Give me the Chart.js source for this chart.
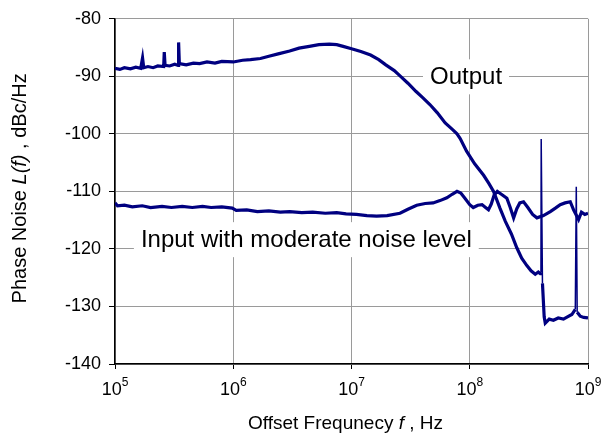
<!DOCTYPE html>
<html>
<head>
<meta charset="utf-8">
<script src="https://cdn.jsdelivr.net/npm/chart.js@4"></script>
<style>
  body { margin: 0; background: #fff; }
  #wrap { width: 609px; height: 435px; position: relative; }
</style>
</head>
<body>
<div id="wrap"><canvas id="phaseNoiseChart"></canvas></div>
<script>
// offset frequency (Hz) and phase noise (dBc/Hz)
const outFreq = [
  1e5, 1.1e5, 1.2e5, 1.35e5, 1.5e5, 1.65e5, 1.71e5, 1.75e5, 1.9e5, 2.1e5,
  2.3e5, 2.58e5, 2.61e5, 2.65e5, 2.9e5, 3.2e5, 3.42e5, 3.45e5, 3.5e5, 4e5,
  4.6e5, 5.2e5, 6e5, 7e5, 8e5, 1e6, 1.2e6, 1.4e6, 1.7e6, 2e6, 2.4e6, 3e6,
  3.6e6, 4.4e6, 5.3e6, 6.5e6, 7.5e6, 8.5e6, 1e7, 1.2e7, 1.45e7, 1.7e7,
  1.95e7, 2.3e7, 2.6e7, 3e7, 3.5e7, 4e7, 4.6e7, 5.3e7, 6.2e7, 7.2e7, 7.8e7,
  8.3e7, 9.4e7, 1.1e8, 1.31e8, 1.45e8, 1.59e8, 1.8e8, 2e8, 2.25e8, 2.5e8,
  2.75e8, 3.04e8, 3.3e8, 3.58e8, 3.8e8, 3.95e8, 4.0e8, 4.02e8, 4.12e8,
  4.26e8, 4.35e8, 4.7e8, 5.1e8, 5.6e8, 6.2e8, 6.7e8, 7.3e8, 7.81e8, 7.96e8,
  8.1e8, 8.6e8, 9.2e8, 1e9,
];
const outLevel = [
  -88.6, -88.8, -88.5, -88.7, -88.4, -88.6, -86.8, -88.5, -88.3, -88.5,
  -88.2, -88.3, -85.8, -88.1, -88.2, -87.9, -88.1, -84.1, -87.8, -88.0,
  -87.7, -87.8, -87.5, -87.7, -87.4, -87.5, -87.2, -87.1, -86.9, -86.5,
  -86.1, -85.6, -85.1, -84.8, -84.5, -84.4, -84.5, -84.8, -85.2, -85.7,
  -86.3, -87.1, -88.0, -89.0, -90.0, -91.2, -92.6, -93.7, -94.9, -96.3,
  -98.1, -99.3, -100.0, -100.8, -103.0, -105.2, -107.2, -108.6, -110.0,
  -112.9, -115.2, -117.4, -119.8, -121.6, -122.9, -123.8, -124.4, -124.0,
  -124.3, -124.1, -100.9, -126.0, -131.8, -132.9, -132.2, -132.4, -132.0,
  -132.2, -131.8, -131.4, -130.5, -109.2, -131.0, -131.7, -131.9, -132.0,
];
const inFreq = [
  1e5, 1.05e5, 1.2e5, 1.4e5, 1.7e5, 2e5, 2.5e5, 3e5, 3.7e5, 4.5e5, 5.5e5,
  6.5e5, 8e5, 9.8e5, 1.06e6, 1.3e6, 1.6e6, 2e6, 2.5e6, 3e6, 3.8e6, 4.7e6,
  6e6, 7.5e6, 9e6, 1.1e7, 1.35e7, 1.63e7, 2e7, 2.57e7, 3e7, 3.56e7, 4.2e7,
  4.9e7, 5.6e7, 6.4e7, 7.1e7, 7.8e7, 8.4e7, 9.1e7, 1e8, 1.07e8, 1.17e8,
  1.27e8, 1.36e8, 1.44e8, 1.52e8, 1.61e8, 1.71e8, 1.85e8, 2.06e8, 2.2e8,
  2.35e8, 2.5e8, 2.65e8, 2.85e8, 3.1e8, 3.4e8, 3.7e8, 4.2e8, 4.8e8, 5.3e8,
  5.82e8, 6.4e8, 7.08e8, 7.55e8, 8.32e8, 8.8e8, 9.4e8, 1e9,
];
const inLevel = [
  -112.0, -112.5, -112.4, -112.7, -112.5, -112.8, -112.6, -112.8, -112.6,
  -112.8, -112.6, -112.8, -112.7, -112.9, -113.3, -113.2, -113.5, -113.4,
  -113.6, -113.5, -113.7, -113.6, -113.8, -113.7, -113.9, -114.0, -114.2,
  -114.3, -114.2, -113.8, -113.1, -112.4, -112.1, -112.0, -111.6, -111.1,
  -110.5, -110.0, -110.3, -111.2, -112.3, -112.8, -112.4, -112.3, -112.8,
  -113.2, -112.2, -110.6, -110.0, -110.5, -111.2, -112.8, -114.6, -113.0,
  -112.0, -111.8, -112.8, -114.0, -114.6, -114.2, -113.5, -112.9, -112.3,
  -112.0, -111.8, -113.2, -114.9, -113.6, -114.0, -113.8,
];
const curveNames = ["Output", "Input with moderate noise level"];
const xTickValues = [1e5, 1e6, 1e7, 1e8, 1e9];

const FONT = "'Liberation Sans', Arial, sans-serif";

function pairs(fs, ls) {
  return fs.map((f, i) => ({ x: f, y: ls[i] }));
}

// spurs are drawn as thin strokes, the noisy trace as a thick band
function segWidth(c) {
  return Math.abs(c.p1.parsed.y - c.p0.parsed.y) > 6 ? 1.5 : 3.2;
}

// white boxed captions next to the curves, drawn over the grid but under the lines
const curveLabels = {
  id: "curveLabels",
  beforeDatasetsDraw(chart) {
    const { ctx } = chart;
    const x = chart.scales.x, y = chart.scales.y;
    const anchors = [
      [9.3e7, -90.0],
      [4.15e6, -118.3],
    ];
    ctx.save();
    ctx.font = "24px " + FONT;
    ctx.textAlign = "center";
    ctx.textBaseline = "middle";
    curveNames.forEach((name, i) => {
      const px = x.getPixelForValue(anchors[i][0]);
      const py = y.getPixelForValue(anchors[i][1]);
      const w = ctx.measureText(name).width + 14;
      ctx.fillStyle = "#fff";
      ctx.fillRect(px - w / 2, py - 17, w, 35);
      ctx.fillStyle = "#000";
      ctx.fillText(name, px, py + 1);
    });
    ctx.restore();
  },
};

// decade labels with superscripts, and axis titles with italic symbols
const axisText = {
  id: "axisText",
  afterDraw(chart) {
    const { ctx } = chart;
    const x = chart.scales.x;
    const area = chart.chartArea;
    ctx.save();
    ctx.fillStyle = "#000";
    ctx.textBaseline = "alphabetic";
    ctx.textAlign = "left";
    xTickValues.forEach((v) => {
      const px = x.getPixelForValue(v);
      const exp = String(Math.round(Math.log10(v)));
      ctx.font = "18px " + FONT;
      const wb = ctx.measureText("10").width;
      ctx.font = "12px " + FONT;
      const we = ctx.measureText(exp).width;
      const left = px - (wb + we) / 2;
      ctx.font = "18px " + FONT;
      ctx.fillText("10", left, area.bottom + 31);
      ctx.font = "12px " + FONT;
      ctx.fillText(exp, left + wb, area.bottom + 22);
    });

    function drawParts(parts, cx, cy, size) {
      let total = 0;
      parts.forEach((p) => {
        ctx.font = (p[1] ? "italic " : "") + size + "px " + FONT;
        total += ctx.measureText(p[0]).width;
      });
      let pos = cx - total / 2;
      parts.forEach((p) => {
        ctx.font = (p[1] ? "italic " : "") + size + "px " + FONT;
        ctx.fillText(p[0], pos, cy);
        pos += ctx.measureText(p[0]).width;
      });
    }

    drawParts(
      [["Offset Frequnecy ", false], ["f", true], [" , Hz", false]],
      (area.left + area.right) / 2 - 6,
      429,
      19
    );

    ctx.translate(26, (area.top + area.bottom) / 2 - 3);
    ctx.rotate(-Math.PI / 2);
    drawParts(
      [["Phase Noise ", false], ["L(f)", true], [" , dBc/Hz", false]],
      0,
      0,
      20
    );
    ctx.restore();
  },
};

const ctx = document.getElementById("phaseNoiseChart").getContext("2d");
const phaseNoiseChart = new Chart(ctx, {
  type: "line",
  data: {
    datasets: [
      {
        label: curveNames[0],
        data: pairs(outFreq, outLevel),
        borderColor: "#000080",
        borderWidth: 3.2,
        segment: { borderWidth: segWidth },
        pointRadius: 0,
        tension: 0,
      },
      {
        label: curveNames[1],
        data: pairs(inFreq, inLevel),
        borderColor: "#000080",
        borderWidth: 3.2,
        segment: { borderWidth: segWidth },
        pointRadius: 0,
        tension: 0,
      },
    ],
  },
  options: {
    responsive: true,
    maintainAspectRatio: false,
    animation: false,
    layout: { padding: { top: 15, right: 21, left: 0, bottom: 0 } },
    scales: {
      x: {
        type: "logarithmic",
        min: 1e5,
        max: 1e9,
        afterBuildTicks: (s) => {
          s.ticks = xTickValues.map((v) => ({ value: v }));
        },
        afterFit: (s) => {
          s.height = 71;
        },
        ticks: { display: false },
        grid: { color: "#9a9a9a", tickColor: "#000", tickLength: 5 },
        border: { color: "#000", width: 1.5 },
      },
      y: {
        min: -140,
        max: -80,
        afterFit: (s) => {
          s.width = 115;
        },
        ticks: {
          stepSize: 10,
          color: "#000",
          padding: 8,
          font: { family: FONT, size: 18 },
        },
        grid: { color: "#9a9a9a", tickColor: "#000", tickLength: 6 },
        border: { color: "#000", width: 1.5 },
      },
    },
    plugins: {
      legend: { display: false },
      tooltip: { enabled: false },
    },
  },
  plugins: [curveLabels, axisText],
});
</script>
</body>
</html>
